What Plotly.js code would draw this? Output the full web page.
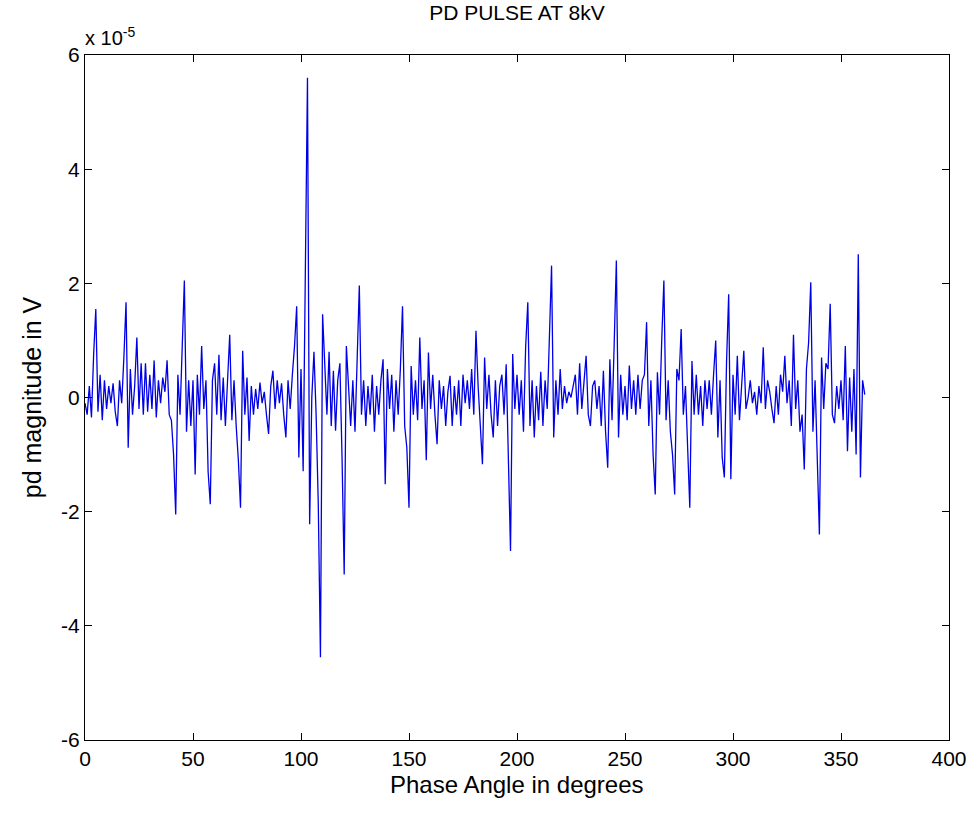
<!DOCTYPE html>
<html>
<head>
<meta charset="utf-8">
<script src="https://cdn.plot.ly/plotly-3.0.1.min.js"></script>
<style>html,body{margin:0;padding:0;background:#fff;}#chart{width:979px;height:815px;}</style>
</head>
<body>
<div id="chart"></div>
<script>
// Phase step (degrees) between samples
var phaseStep = 1;
// pd magnitude in units of 1e-5 V, one value per degree (0..361)
var magnitudeE5 = [
 -0.1,-0.3,0.2,-0.35,0.75,1.55,-0.25,0.4,-0.4,0.3,
 -0.2,0.2,-0.1,0.25,-0.25,-0.5,0.3,-0.1,0.7,1.67,
 -0.88,0.5,-0.3,0.2,1.05,-0.2,0.6,-0.3,0.6,-0.25,
 0.4,-0.2,0.65,-0.35,0.3,-0.1,0.35,0.1,0.65,-0.3,
 -0.4,-1.0,-2.05,0.4,-0.3,1.0,2.05,-0.6,0.3,-0.5,
 0.3,-1.35,0.4,-0.3,0.9,-0.2,0.3,-1.3,-1.87,0.3,
 0.6,-0.3,0.75,-0.4,0.35,-0.5,0.3,1.1,-0.4,0.3,
 -0.5,-1.1,-1.93,0.82,-0.3,0.35,-0.76,0.2,-0.3,0.15,
 -0.2,0.26,-0.1,0.1,-0.3,-0.64,0.2,0.47,-0.2,0.3,
 -0.1,0.25,-0.3,-0.7,0.3,-0.2,0.4,0.9,1.6,-1.05,
 0.5,-1.29,2.16,5.6,-2.22,0.0,0.8,-0.3,-1.87,-4.55,
 1.46,0.6,-0.3,0.8,-0.5,0.47,-0.58,0.3,0.6,-1.05,
 -3.1,0.9,0.2,-0.5,0.3,-0.6,0.67,1.96,-0.3,0.3,
 -0.5,0.2,-0.3,0.4,-0.6,0.2,-0.3,0.3,0.67,-1.52,
 0.5,-0.2,0.4,-0.6,0.3,-0.3,0.5,1.6,-0.5,-0.88,
 -1.93,0.55,-0.3,0.3,-0.4,1.05,-0.2,0.3,-1.1,0.79,
 -0.2,0.4,-0.3,-0.82,0.3,-0.2,0.2,-0.5,0.1,0.38,
 -0.5,0.2,-0.3,0.3,-0.5,0.4,-0.1,0.3,-0.2,0.5,
 -0.3,1.17,0.2,-0.4,-1.17,0.7,-0.2,0.4,-0.3,-0.7,
 0.3,-0.5,0.2,0.4,-0.3,0.58,-1.2,-2.69,0.76,-0.2,
 0.4,-0.3,0.3,-0.6,0.88,1.67,-0.5,0.3,-0.7,0.2,
 -0.4,0.45,-0.5,0.3,-0.2,1.1,2.31,-0.7,0.3,-0.3,
 0.5,-0.2,0.2,-0.1,0.1,0.0,0.2,0.4,-0.3,0.6,
 -0.2,0.3,0.73,-0.3,-0.5,0.2,0.3,-0.2,0.2,-0.5,
 0.47,-0.6,-1.23,0.67,-0.4,0.94,2.4,-0.7,0.4,-0.3,
 0.2,-0.4,0.56,-0.2,0.3,-0.3,0.4,-0.2,0.3,0.4,
 1.32,-0.5,0.3,-1.0,-1.7,0.44,-0.3,1.0,2.05,-0.4,
 0.3,-0.6,-1.0,-1.7,0.5,0.3,1.2,-0.3,0.2,-0.88,
 -1.93,0.64,-0.3,0.4,-0.3,0.2,-0.5,0.3,-0.2,0.3,
 -0.3,0.4,1.0,-0.7,0.3,-1.05,-1.4,0.6,1.81,-1.43,
 0.4,-0.3,0.73,-0.4,0.2,0.82,-0.2,0.0,0.3,-0.1,
 0.1,-0.3,0.2,-0.1,0.88,-0.2,0.3,0.1,-0.2,-0.45,
 0.2,-0.3,0.4,0.1,0.73,-0.1,0.3,-0.5,1.1,-0.2,
 0.3,-0.6,-0.3,-1.26,0.5,0.96,2.02,-0.6,0.3,-0.88,
 -2.4,0.7,-0.2,0.6,0.5,1.64,-0.3,-0.45,0.2,-0.2,
 0.3,-0.4,0.9,-0.94,0.35,-0.6,0.5,-1.0,2.51,-1.4,
 0.3,0.05
];
var xTicks = [0,50,100,150,200,250,300,350,400];
var yTicks = [-6,-4,-2,0,2,4,6];

var phase = magnitudeE5.map(function(_, i){ return i * phaseStep; });

var fontFam = '"Liberation Sans", Arial, sans-serif';
var trace = {
  x: phase, y: magnitudeE5, type: 'scatter', mode: 'lines',
  line: {color: '#0000e6', width: 1.3}, hoverinfo: 'x+y'
};
var layout = {
  width: 979, height: 815,
  margin: {l: 85, r: 30, t: 55, b: 75},
  paper_bgcolor: '#ffffff', plot_bgcolor: '#ffffff',
  showlegend: false,
  title: {text: 'PD PULSE AT 8kV', font: {family: fontFam, size: 21, color: '#000'}, x: 0.528, xanchor: 'center', y: 0.994, yanchor: 'top'},
  xaxis: {
    range: [0, 400], tickvals: xTicks, ticktext: xTicks.map(String),
    showgrid: false, zeroline: false, showline: true, linecolor: '#000', linewidth: 1,
    mirror: 'ticks', ticks: 'inside', ticklen: 7, tickcolor: '#000',
    tickfont: {family: fontFam, size: 21, color: '#000'}
  },
  yaxis: {
    range: [-6, 6], tickvals: yTicks, ticktext: yTicks.map(String),
    showgrid: false, zeroline: false, showline: true, linecolor: '#000', linewidth: 1,
    mirror: 'ticks', ticks: 'inside', ticklen: 7, tickcolor: '#000',
    tickfont: {family: fontFam, size: 21, color: '#000'},
    title: {text: 'pd magnitude in V', font: {family: fontFam, size: 25, color: '#000'}, standoff: 12}
  },
  annotations: [{
    xref: 'paper', yref: 'paper', x: 0, y: 1, xanchor: 'left', yanchor: 'bottom',
    text: 'x 10<sup>-5</sup>', showarrow: false, xshift: -2, yshift: 4,
    font: {family: fontFam, size: 20, color: '#000'}
  }, {
    xref: 'paper', yref: 'paper', x: 0.5, y: 0, xanchor: 'center', yanchor: 'top',
    text: 'Phase Angle in degrees', showarrow: false, yshift: -29,
    font: {family: fontFam, size: 24, color: '#000'}
  }]
};
Plotly.newPlot('chart', [trace], layout, {staticPlot: true, displayModeBar: false});
</script>
</body>
</html>
